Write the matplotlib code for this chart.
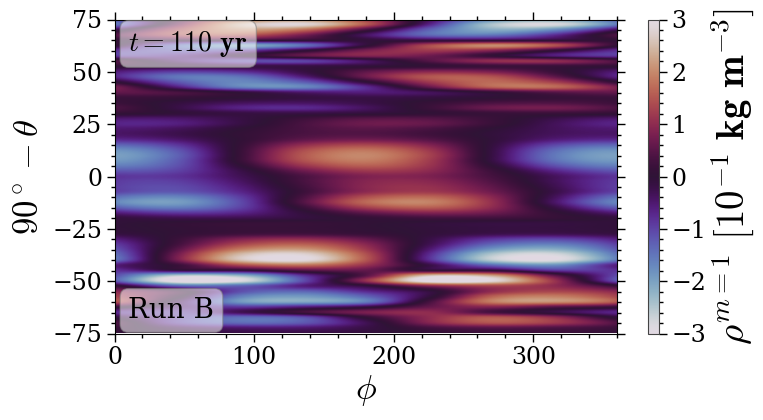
import numpy as np
import matplotlib
matplotlib.use("Agg")
import matplotlib.pyplot as plt
from matplotlib.ticker import MultipleLocator

plt.rcParams['font.family'] = 'DejaVu Serif'
plt.rcParams['mathtext.fontset'] = 'cm'

phi_cols = [0, 45, 90, 135, 180, 225, 270, 315]
lat_rows = [75 - 2.5 * i for i in range(61)]
rho_table = [
 [-1.15, .35, 1.64, 1.97, 1.15, -.35, -1.64, -1.97],
 [-1.54, .65, 2.46, 2.83, 1.54, -.65, -2.46, -2.83],
 [-.38, 1.26, 2.17, 1.80, .38, -1.26, -2.17, -1.80],
 [.41, 1.39, 1.55, .81, -.41, -1.39, -1.55, -.81],
 [.08, .26, .29, .15, -.08, -.26, -.29, -.15],
 [.07, -1.36, -2.0, -1.46, -.07, 1.36, 2.0, 1.46],
 [-.77, -1.19, -.92, -.11, .77, 1.19, .92, .11],
 [-.9, -.69, -.08, .58, .9, .69, .08, -.58],
 [.38, -.46, -1.03, -1.0, -.38, .46, 1.03, 1.0],
 [.07, -.08, -.19, -.18, -.07, .08, .19, .18],
 [-.52, -.89, -.74, -.16, .52, .89, .74, .16],
 [-.68, -1.51, -1.45, -.54, .68, 1.51, 1.45, .54],
 [.0, -1.2, -1.7, -1.20, .0, 1.2, 1.7, 1.20],
 [.76, -.6, -1.63, -1.69, -.76, .6, 1.63, 1.69],
 [.59, .35, -.10, -.49, -.59, -.35, .10, .49],
 [.2, .14, 0, -.14, -.2, -.14, 0, .14],
 [.2, -.11, -.35, -.39, -.2, .11, .35, .39],
 [.38, -.19, -.65, -.73, -.38, .19, .65, .73],
 [.1, -.05, -.17, -.19, -.1, .05, .17, .19],
 [-.47, -.45, -.17, .21, .47, .45, .17, -.21],
 [-.68, -.61, -.18, .35, .68, .61, .18, -.35],
 [-.5, -.35, 0, .35, .5, .35, 0, -.35],
 [-.44, -.25, .08, .37, .44, .25, -.08, -.37],
 [-.7, -.45, .06, .54, .7, .45, -.06, -.54],
 [-1.3, -.84, .11, 1.0, 1.3, .84, -.11, -1.0],
 [-1.79, -1.15, .16, 1.38, 1.79, 1.15, -.16, -1.38],
 [-1.99, -1.29, .17, 1.53, 1.99, 1.29, -.17, -1.53],
 [-1.89, -1.22, .17, 1.46, 1.89, 1.22, -.17, -1.46],
 [-1.6, -1.13, 0, 1.13, 1.6, 1.13, 0, -1.13],
 [-1.18, -.98, -.21, .69, 1.18, .98, .21, -.69],
 [-.85, -.82, -.31, .38, .85, .82, .31, -.38],
 [-.91, -.94, -.42, .35, .91, .94, .42, -.35],
 [-.95, -1.06, -.55, .28, .95, 1.06, .55, -.28],
 [-.98, -1.18, -.69, .21, .98, 1.18, .69, -.21],
 [-1.43, -1.67, -.93, .35, 1.43, 1.67, .93, -.35],
 [-1.70, -1.95, -1.06, .45, 1.70, 1.95, 1.06, -.45],
 [-1.26, -1.59, -.99, .19, 1.26, 1.59, .99, -.19],
 [-.58, -.90, -.69, -.08, .58, .90, .69, .08],
 [-.10, -.27, -.28, -.13, .10, .27, .28, .13],
 [-.05, .06, .14, .13, .05, -.06, -.14, -.13],
 [-.05, .06, .14, .13, .05, -.06, -.14, -.13],
 [-.13, .06, .22, .25, .13, -.06, -.22, -.25],
 [-.57, .18, .82, .98, .57, -.18, -.82, -.98],
 [-.92, .28, 1.31, 1.58, .92, -.28, -1.31, -1.58],
 [-1.17, .50, 1.87, 2.15, 1.17, -.50, -1.87, -2.15],
 [-1.45, .75, 2.5, 2.80, 1.45, -.75, -2.5, -2.80],
 [-1.50, .78, 2.60, 2.95, 1.50, -.78, -2.60, -2.95],
 [-.6, .2, 1.4, 1.8, 1.1, -.2, -1.4, -1.8],
 [-.8, -.1, 0, .5, .6, 0, -.1, -.9],
 [-1.1, -2.5, -2.2, -.8, .5, 2.5, 2.2, .5],
 [-1.2, -3.2, -2.9, -1.1, 1.1, 3.2, 2.9, 1.1],
 [.1, -1.3, -1.3, -.6, -.1, .9, 1.3, 1.0],
 [.9, .2, -1.1, -1.3, -.7, -.1, 1.0, 1.3],
 [1.3, .1, -1.6, -1.9, -1.3, -.1, 1.6, 1.9],
 [1.5, -.3, -1.9, -2.1, -1.6, .3, 1.9, 2.1],
 [.2, -.5, -.9, -.6, -.2, .6, .9, .5],
 [-.7, -.9, -.3, .3, .8, 1.0, .3, -.2],
 [-.1, -.9, -1.4, -1.1, .1, 1.0, 1.5, 1.0],
 [.4, -.9, -1.4, -1.2, -.3, .9, 1.5, 1.2],
 [.2, -.3, -.5, -.5, -.2, .3, .5, .4],
 [.1, -.1, -.2, -.2, -.1, .1, .2, .2],
]
x_ticks = [0, 100, 200, 300]
y_ticks = [-75, -50, -25, 0, 25, 50, 75]
cbar_ticks = [-3, -2, -1, 0, 1, 2, 3]

W, H = 763, 420
fig = plt.figure(figsize=(W / 100, H / 100), dpi=100)
ax = fig.add_axes([114.5 / W, (H - 333.5) / H, 502.5 / W, 314 / H])
cax = fig.add_axes([648 / W, (H - 333.5) / H, 11 / W, 314 / H])

table = np.array(rho_table)
wrapped = np.hstack([table[:, -1:], table, table[:, :2]])
dphi = phi_cols[1] - phi_cols[0]
dlat = lat_rows[0] - lat_rows[1]
extent = [phi_cols[0] - 1.5 * dphi, phi_cols[-1] + 2.5 * dphi,
          lat_rows[-1] - dlat / 2, lat_rows[0] + dlat / 2]
im = ax.imshow(wrapped, extent=extent, origin='upper', aspect='auto',
               cmap='twilight', vmin=-3, vmax=3,
               interpolation='catrom', interpolation_stage='data')
ax.set_xlim(0, 360)
ax.set_ylim(-75, 75)
ax.set_xticks(x_ticks)
ax.set_yticks(y_ticks)
ax.xaxis.set_minor_locator(MultipleLocator(20))
ax.yaxis.set_minor_locator(MultipleLocator(5))
ax.tick_params(which='both', top=True, right=True, direction='out', width=1.0)
ax.tick_params(which='major', length=6, labelsize=17, pad=3)
ax.tick_params(which='minor', length=3)
ax.set_xlabel(r'$\phi$', fontsize=25, labelpad=3)
ax.set_ylabel(r'$90^\circ-\theta$', fontsize=25, labelpad=5)

box = dict(boxstyle='round,pad=0.3', facecolor='white', edgecolor='gray', alpha=0.55)
ax.text(10, 63.3, r'$t=110$ $\mathbf{yr}$', fontsize=20, ha='left', va='center', bbox=box)
ax.text(10, -64, 'Run B', fontsize=20, ha='left', va='center', bbox=box)

cb = fig.colorbar(im, cax=cax)
cb.set_ticks(cbar_ticks)
cb.ax.yaxis.set_minor_locator(MultipleLocator(0.2))
cb.ax.tick_params(which='major', length=6, labelsize=17, pad=3, width=1.0)
cb.ax.tick_params(which='minor', length=3, width=1.0)
cb.outline.set_edgecolor('#444444')
cb.set_label(r'$\rho^{m=1}$ $\mathbf{[10^{-1}\ kg\ m^{-3}]}$', fontsize=28, labelpad=2)

fig.savefig('out.png', dpi=100)
